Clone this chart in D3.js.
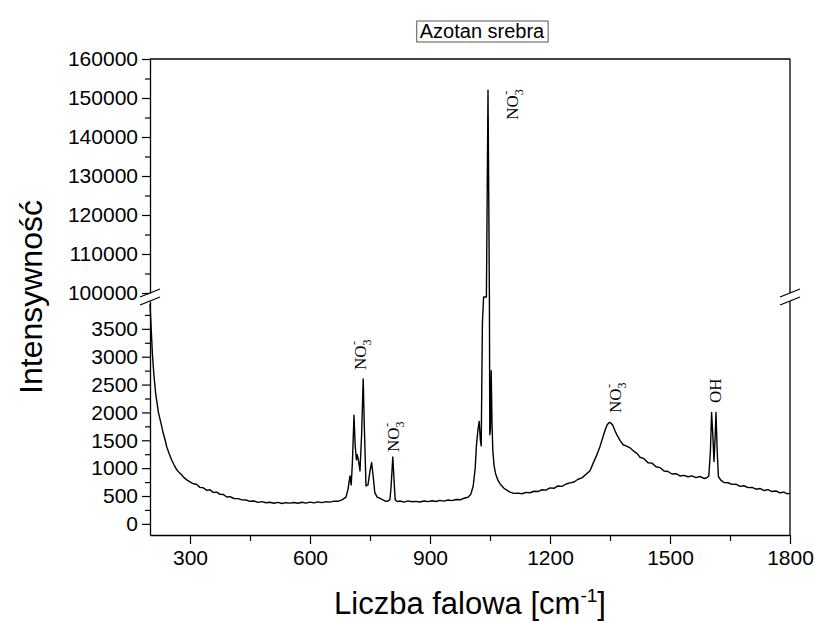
<!DOCTYPE html>
<html>
<head>
<meta charset="utf-8">
<script src="https://cdn.jsdelivr.net/npm/d3@7/dist/d3.min.js"></script>
<style>
  html, body { margin: 0; padding: 0; background: #fff; }
  svg { display: block; }
  .tick text { font-family: "Liberation Sans", Arial, sans-serif; font-size: 21px; fill: #000; }
</style>
</head>
<body>
<svg id="chart" width="815" height="622"></svg>
<script>
// widmo Ramana - azotan srebra
const wavenumber = [
  200, 203, 206, 210, 214, 217, 221, 225, 229, 233, 238, 242, 248, 254, 260, 267, 273, 279, 285, 292,
  300, 308, 316, 325, 333, 342, 350, 358, 367, 375, 383, 392, 400, 410, 420, 430, 440, 450, 460, 470,
  480, 490, 500, 510, 520, 530, 540, 550, 560, 570, 580, 590, 600, 610, 620, 630, 640, 650, 660, 670,
  680, 690, 695, 700, 703, 706, 710, 713, 716, 718, 721, 725, 729, 733, 736, 740, 745, 750, 754, 758,
  762, 768, 775, 782, 790, 796, 800, 803, 807, 810, 813, 818, 825, 835, 845, 855, 865, 875, 885, 895,
  905, 915, 925, 935, 945, 955, 965, 975, 985, 995, 1002, 1008, 1013, 1016, 1020, 1023, 1026, 1028, 1031, 1034,
  1038, 1041, 1042, 1045, 1047.5, 1048.5, 1049.5, 1051, 1053, 1055, 1057, 1060, 1064, 1070, 1077, 1085, 1093, 1100, 1110, 1120,
  1130, 1140, 1150, 1160, 1170, 1180, 1190, 1200, 1210, 1220, 1230, 1240, 1250, 1260, 1270, 1280, 1290, 1300, 1308, 1316,
  1325, 1332, 1338, 1343, 1348, 1352, 1357, 1362, 1367, 1375, 1383, 1390, 1400, 1410, 1418, 1425, 1435, 1445, 1455, 1465,
  1475, 1485, 1495, 1505, 1515, 1525, 1535, 1545, 1555, 1565, 1575, 1585, 1592, 1597, 1601, 1604, 1607, 1610, 1613, 1615,
  1618, 1621, 1627, 1635, 1645, 1655, 1665, 1675, 1685, 1695, 1705, 1715, 1725, 1735, 1745, 1755, 1765, 1775, 1785, 1792,
  1800
];
const intensity = [
  3950, 3500, 3050, 2650, 2350, 2200, 2000, 1880, 1760, 1630, 1500, 1380, 1260, 1150, 1060, 970, 920, 880, 830, 790,
  755, 720, 712, 655, 648, 600, 612, 565, 570, 530, 528, 482, 488, 455, 452, 430, 428, 405, 410, 385,
  398, 378, 388, 370, 386, 366, 380, 372, 384, 370, 388, 372, 390, 376, 394, 382, 398, 390, 408, 405,
  430, 480, 620, 860, 700, 1100, 1950, 1400, 1150, 1240, 1150, 950, 1600, 2600, 1700, 680, 700, 950, 1100, 850,
  560, 480, 460, 430, 405, 410, 440, 700, 1200, 800, 430, 400, 410, 390, 412, 396, 404, 392, 410, 398,
  415, 402, 422, 408, 428, 418, 438, 432, 460, 478, 530, 680, 1000, 1400, 1700, 1840, 1500, 1400, 3600, 6000,
  20000, 60000, 112000, 152000, 115000, 50000, 1600, 1700, 2750, 1800, 1330, 1050, 900, 780, 700, 640, 600, 570, 548, 552,
  540, 566, 558, 585, 580, 612, 605, 645, 638, 680, 672, 715, 735, 752, 800, 825, 890, 955, 1090, 1220,
  1390, 1550, 1690, 1780, 1820, 1810, 1770, 1680, 1600, 1500, 1420, 1400, 1365, 1300, 1262, 1195, 1170, 1098, 1090, 1025,
  1010, 948, 940, 895, 900, 860, 870, 845, 862, 830, 850, 815, 828, 860, 1300, 2000, 1600, 1120, 1600, 2000,
  1300, 850, 785, 742, 738, 708, 712, 672, 684, 650, 655, 622, 635, 598, 615, 580, 590, 558, 570, 540,
  548
];

const xTicks = [300, 600, 900, 1200, 1500, 1800];
const xMinorTicks = [450, 750, 1050, 1350, 1650];
const lowerTicks = [0, 500, 1000, 1500, 2000, 2500, 3000, 3500];
const lowerMinorTicks = [250, 750, 1250, 1750, 2250, 2750, 3250, 3750];
const upperTicks = [100000, 110000, 120000, 130000, 140000, 150000, 160000];
const upperMinorTicks = [105000, 115000, 125000, 135000, 145000, 155000];

// etykiety pasm: tekst, liczba falowa, intensywność dolnego końca napisu
const bandNames = ['NO3', 'NO3', 'NO3', 'NO3', 'OH'];
const bandWavenumber = [726, 808, 1105, 1362, 1612];
const bandIntensity = [2760, 1290, 144400, 1990, 2170];

const chartTitle = 'Azotan srebra';
const yTitle = 'Intensywność';

const svg = d3.select('#chart');
const L = 150, R = 790, T = 59, B = 535;
const breakTop = 293, breakBottom = 301, breakY = 297;

const x = d3.scaleLinear().domain([200, 1800]).range([L, R]);
const yLow = d3.scaleLinear().domain([-200, 4000]).range([B, breakBottom]);
const yHigh = d3.scaleLinear().domain([100000, 160000]).range([breakTop, T]);
const y = v => v <= 4000 ? yLow(v) : (v >= 100000 ? yHigh(v) : breakY);
const fmt = d3.format('d');

svg.append('rect').attr('width', 815).attr('height', 622).attr('fill', '#fff');

// osie
const gx = svg.append('g').attr('transform', `translate(0,${B})`);
gx.call(d3.axisBottom(x).tickValues(xTicks).tickFormat(fmt).tickSize(9).tickSizeOuter(0).tickPadding(6));
gx.append('g').call(d3.axisBottom(x).tickValues(xMinorTicks).tickSize(6).tickFormat('')).select('.domain').remove();

const gyl = svg.append('g').attr('transform', `translate(${L},0)`);
gyl.call(d3.axisLeft(yLow).tickValues(lowerTicks).tickFormat(fmt).tickSize(8).tickSizeOuter(0).tickPadding(4));
gyl.append('g').call(d3.axisLeft(yLow).tickValues(lowerMinorTicks).tickSize(5).tickFormat('')).select('.domain').remove();

const gyh = svg.append('g').attr('transform', `translate(${L},0)`);
gyh.call(d3.axisLeft(yHigh).tickValues(upperTicks).tickFormat(fmt).tickSize(8).tickSizeOuter(0).tickPadding(4));
gyh.append('g').call(d3.axisLeft(yHigh).tickValues(upperMinorTicks).tickSize(5).tickFormat('')).select('.domain').remove();

svg.selectAll('.domain').attr('stroke', '#000').attr('stroke-width', 1.3);
svg.selectAll('.tick line').attr('stroke', '#000').attr('stroke-width', 1.2);

// ramka: góra i prawa strona
const frame = svg.append('g').attr('stroke', '#000').attr('stroke-width', 1.3);
frame.append('line').attr('x1', L).attr('x2', R).attr('y1', T).attr('y2', T);
frame.append('line').attr('x1', R).attr('x2', R).attr('y1', T).attr('y2', breakTop);
frame.append('line').attr('x1', R).attr('x2', R).attr('y1', breakBottom).attr('y2', B);

// znaczniki przerwy osi
[L, R].forEach(cx => {
  [-4, 4].forEach(off => {
    svg.append('line')
      .attr('x1', cx - 10).attr('y1', breakY + off + 4)
      .attr('x2', cx + 10).attr('y2', breakY + off - 4)
      .attr('stroke', '#000').attr('stroke-width', 1.3);
  });
});

// widmo
const points = wavenumber.map((w, i) => [w, intensity[i]]);
svg.append('path')
  .datum(points)
  .attr('fill', 'none')
  .attr('stroke', '#000')
  .attr('stroke-width', 1.4)
  .attr('stroke-linejoin', 'round')
  .attr('d', d3.line().x(d => x(d[0])).y(d => y(d[1])));

// etykiety pasm (pionowe, szeryfowe)
bandNames.forEach((name, i) => {
  const px = x(bandWavenumber[i]) + 6, py = y(bandIntensity[i]);
  const g = svg.append('g').attr('transform', `translate(${px},${py}) rotate(-90)`)
    .style('font-family', '"Liberation Serif", "Times New Roman", serif');
  if (name === 'NO3') {
    const base = g.append('text').attr('font-size', 17).text('NO');
    const w = base.node().getComputedTextLength();
    g.append('text').attr('x', w + 0.5).attr('y', -8).attr('font-size', 12).text('-');
    g.append('text').attr('x', w).attr('y', 5).attr('font-size', 12).text('3');
  } else {
    g.append('text').attr('font-size', 17).text(name);
  }
});

// tytuł w ramce
const titleG = svg.append('g');
const titleBox = titleG.append('rect');
const titleText = titleG.append('text')
  .attr('x', 482).attr('y', 38)
  .attr('text-anchor', 'middle')
  .style('font-family', '"Liberation Sans", Arial, sans-serif')
  .style('font-size', '20px')
  .text(chartTitle);
const bb = titleText.node().getBBox();
titleBox
  .attr('x', bb.x - 3).attr('y', bb.y + 1)
  .attr('width', bb.width + 6).attr('height', bb.height - 1)
  .attr('fill', '#fff').attr('stroke', '#555').attr('stroke-width', 1);

// tytuły osi
svg.append('text')
  .attr('transform', `translate(42,${(T + B) / 2}) rotate(-90)`)
  .attr('text-anchor', 'middle')
  .style('font-family', '"Liberation Sans", Arial, sans-serif')
  .style('font-size', '32px')
  .text(yTitle);

const xt = svg.append('text')
  .attr('x', (L + R) / 2).attr('y', 614)
  .attr('text-anchor', 'middle')
  .style('font-family', '"Liberation Sans", Arial, sans-serif')
  .style('font-size', '31px');
xt.append('tspan').text('Liczba falowa [cm');
xt.append('tspan').attr('dy', -12).attr('font-size', 19).text('-1');
xt.append('tspan').attr('dy', 12).text(']');
</script>
</body>
</html>
